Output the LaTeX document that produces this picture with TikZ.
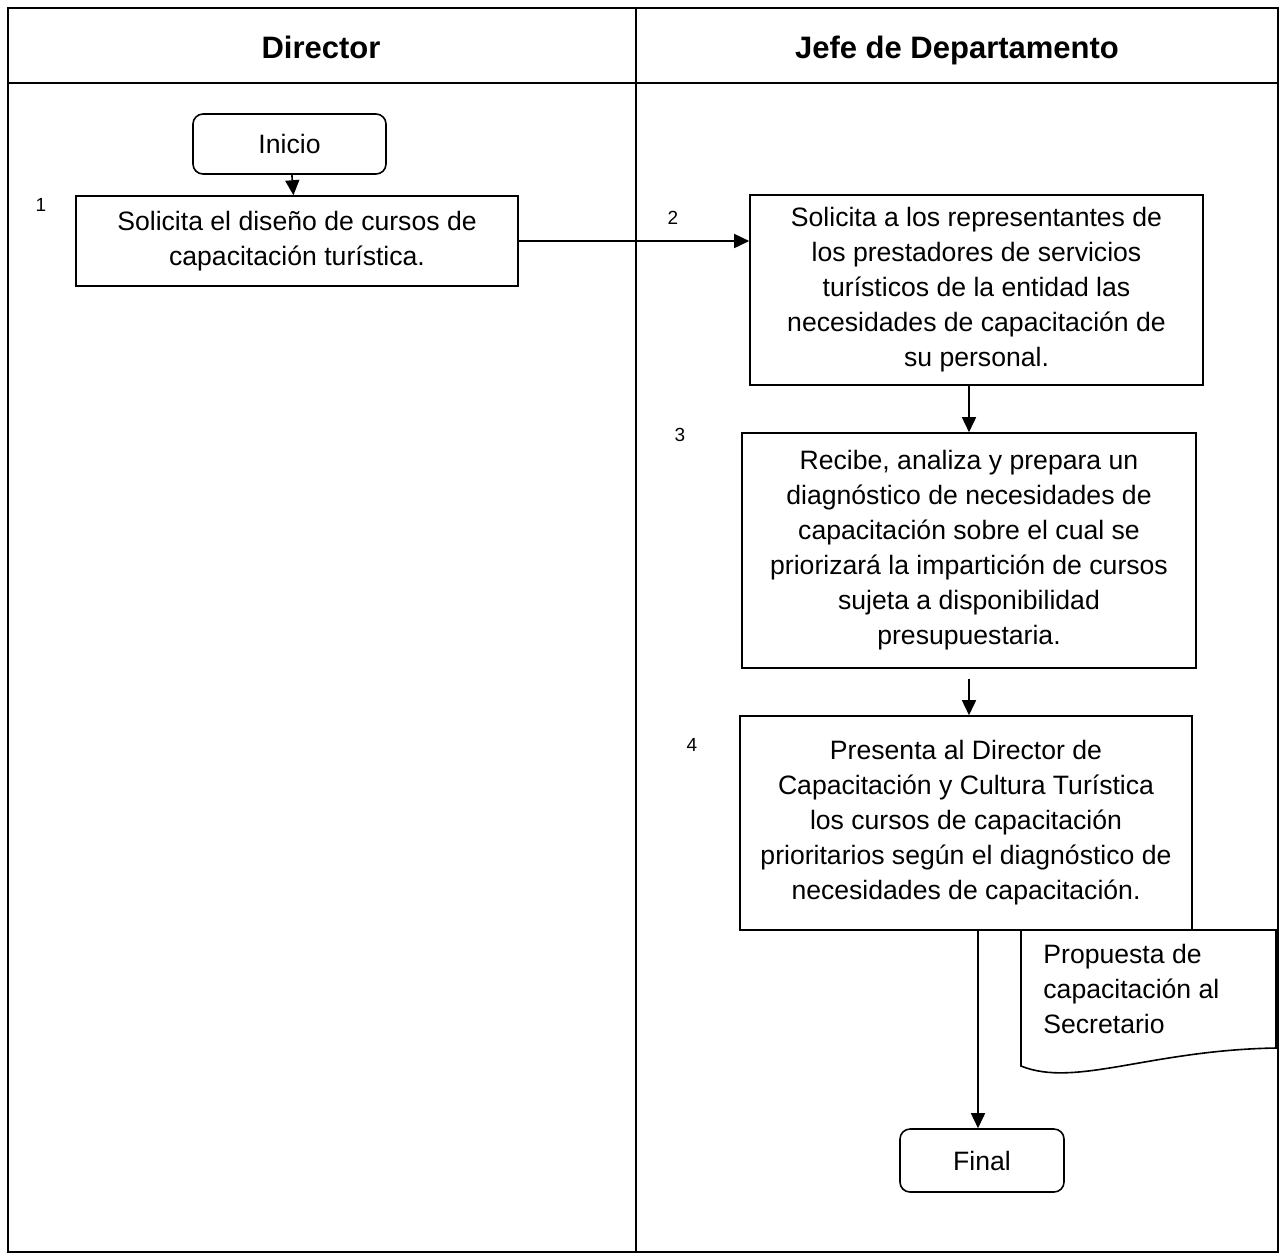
\documentclass[tikz,border=0pt]{standalone}
\usepackage{fontspec}
\setmainfont{Liberation Sans}
\usetikzlibrary{arrows.meta}
\tikzset{
  caja/.style={draw, line width=0.8pt, align=center, inner sep=0pt,
    font=\fontsize{13.3}{17.5}\selectfont},
  terminal/.style={caja, rounded corners=5pt},
  flecha/.style={-{Triangle[length=7.5pt,width=7pt]}, line width=0.8pt},
  paso/.style={font=\fontsize{9.5}{11}\selectfont},
  titulo/.style={font=\fontsize{15.5}{18}\selectfont\bfseries, anchor=base},
  carril/.style={line width=1pt},
}
\begin{document}
\begin{tikzpicture}[x=0.5pt, y=-0.5pt]
  \useasboundingbox (0,0) rectangle (1284,1255);
  % carriles
  \draw[carril] (8,8) rectangle (1278,1252);
  \draw[carril] (8,83) -- (1278,83);
  \draw[carril] (636,8) -- (636,1252);
  \node[titulo] (director) at (321,58) {Director};
  \node[titulo] (jefe) at (957,58) {Jefe de Departamento};

  % actividades
  \node[terminal, minimum width=96.5pt, minimum height=30pt] (inicio) at (289.5,144) {Inicio};
  \node[caja, minimum width=221pt, minimum height=45pt] (sol) at (297,241)
    {Solicita el diseño de cursos de\\capacitación turística.};
  \node[caja, minimum width=226.5pt, minimum height=95pt] (repr) at (976.5,290)
    {Solicita a los representantes de\\los prestadores de servicios\\turísticos de la entidad las\\necesidades de capacitación de\\su personal.};
  \node[caja, minimum width=227pt, minimum height=117.5pt] (diag) at (969,550.5)
    {Recibe, analiza y prepara un\\diagnóstico de necesidades de\\capacitación sobre el cual se\\priorizará la impartición de cursos\\sujeta a disponibilidad\\presupuestaria.};
  \node[caja, minimum width=226pt, minimum height=107pt] (pres) at (966,823)
    {Presenta al Director de\\Capacitación y Cultura Turística\\los cursos de capacitación\\prioritarios según el diagnóstico de\\necesidades de capacitación.};
  \node[terminal, minimum width=82pt, minimum height=31.5pt] (final) at (982,1160.5) {Final};

  % documento
  \draw[line width=0.8pt, fill=white] (1021,930) -- (1276,930) -- (1276,1048)
    .. controls (1150,1050) and (1075,1088) .. (1021,1066) -- cycle;
  \node[anchor=north west, align=left, inner sep=0pt,
    font=\fontsize{13.3}{17.5}\selectfont] (propuesta) at (1043,944)
    {Propuesta de\\capacitación al\\Secretario};

  % numeros
  \node[paso] (n1) at (41,205) {1};
  \node[paso] (n2) at (673,218) {2};
  \node[paso] (n3) at (680,435) {3};
  \node[paso] (n4) at (692,745) {4};

  % flujo
  \draw[flecha] (inicio) -- (sol);
  \draw[flecha] (sol.east) -- (repr.west |- sol.east);
  \draw[flecha] (repr.south -| diag.north) -- (diag.north);
  \draw[flecha] ([yshift=-5pt]diag.south) -- (diag.south |- pres.north);
  \draw[flecha] ([xshift=-2pt]final.north |- pres.south) -- ([xshift=-2pt]final.north);
\end{tikzpicture}
\end{document}
